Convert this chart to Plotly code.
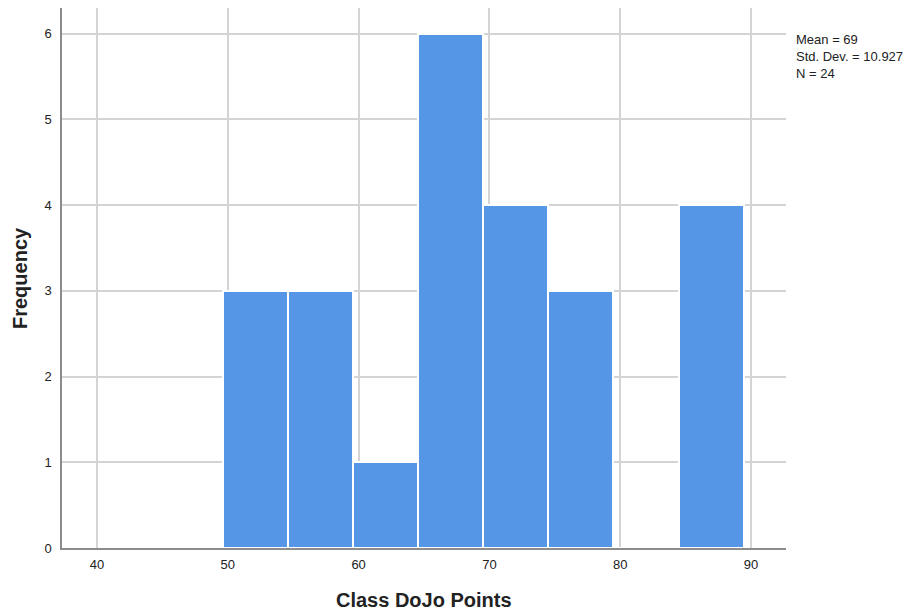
import plotly.graph_objects as go

bin_starts = [49.6, 54.58, 59.56, 64.54, 69.52, 74.5, 79.48, 84.46]
counts = [3, 3, 1, 6, 4, 3, 0, 4]
bin_width = 4.98
x_ticks = [40, 50, 60, 70, 80, 90]
y_ticks = [0, 1, 2, 3, 4, 5, 6]
stats_text = "Mean = 69<br>Std. Dev. = 10.927<br>N = 24"

centers = [s + bin_width / 2 for s in bin_starts]

fig = go.Figure()
fig.add_trace(go.Bar(
    x=centers, y=counts, width=[bin_width] * len(centers),
    marker=dict(color="#5596E6", line=dict(color="white", width=2)),
    hoverinfo="skip",
))

fig.update_layout(
    width=911, height=614,
    margin=dict(l=62, r=125, t=8, b=66, autoexpand=False),
    plot_bgcolor="white", paper_bgcolor="white",
    showlegend=False,
    font=dict(family="Liberation Sans, Arial, sans-serif", color="#222"),
    bargap=0,
)
fig.update_xaxes(
    range=[37.32, 92.68], tickvals=x_ticks, ticks="", automargin=False,
    showgrid=True, gridcolor="#d4d4d4", gridwidth=1.5,
    showline=True, linecolor="#8c8c8c", linewidth=1.5,
    zeroline=False, tickfont=dict(size=13, color="#222"), ticklabelstandoff=4,
)
fig.update_yaxes(
    range=[0, 6.30], tickvals=y_ticks, ticks="", automargin=False,
    showgrid=True, gridcolor="#d4d4d4", gridwidth=1.5,
    showline=True, linecolor="#8c8c8c", linewidth=1.5,
    zeroline=False, tickfont=dict(size=13, color="#222"), ticklabelstandoff=6,
)
fig.add_annotation(
    xref="paper", yref="paper", x=0.5, y=0, yshift=-52, xanchor="center", yanchor="middle",
    text="<b>Class DoJo Points</b>", showarrow=False, font=dict(size=20, color="#222"),
)
fig.add_annotation(
    xref="paper", yref="paper", x=0, xshift=-42, y=0.5, xanchor="center", yanchor="middle",
    text="<b>Frequency</b>", textangle=-90, showarrow=False, font=dict(size=20, color="#222"),
)
fig.add_annotation(
    xref="paper", yref="paper", x=1, xshift=8, y=1, yshift=-22, xanchor="left", yanchor="top",
    text=stats_text, showarrow=False, align="left",
    font=dict(size=13, color="#222"),
)
fig.write_html(
    "out.html",
    config={"displayModeBar": False},
    post_script="document.body.style.margin='0';document.body.style.overflow='hidden';",
)
